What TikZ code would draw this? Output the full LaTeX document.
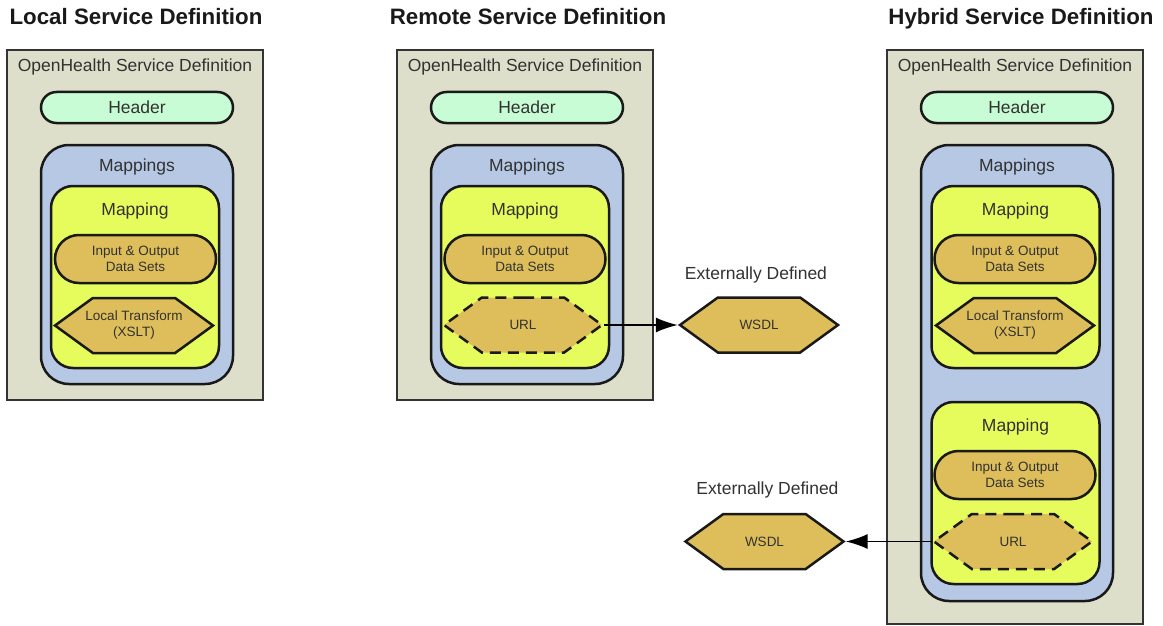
\documentclass[tikz,border=0pt]{standalone}
\usepackage{fontspec}
\setmainfont{Liberation Sans}
\usetikzlibrary{arrows.meta, positioning, shapes.misc, shapes.symbols}

\definecolor{defgray}{RGB}{221,223,203}
\definecolor{headgreen}{RGB}{200,252,212}
\definecolor{mapsblue}{RGB}{182,200,228}
\definecolor{mapyellow}{RGB}{230,252,92}
\definecolor{datagold}{RGB}{221,190,90}
\definecolor{textgray}{RGB}{50,50,50}

\tikzset{
	defbox/.style = {draw = black!80, line width = 2pt, fill = defgray, minimum width = 256pt, inner sep = 0pt},
	headbox/.style = {rounded rectangle, draw = black!90, line width = 2.5pt, fill = headgreen, minimum width = 192pt, minimum height = 31pt, inner sep = 0pt, font = \fontsize{17.5}{20}\selectfont, text = textgray},
	mapsbox/.style = {draw = black!90, line width = 2.5pt, fill = mapsblue, rounded corners = 28pt, minimum width = 192pt, inner sep = 0pt},
	mapbox/.style = {draw = black!90, line width = 2.5pt, fill = mapyellow, rounded corners = 22pt, minimum width = 168pt, minimum height = 182pt, inner sep = 0pt},
	databox/.style = {rounded rectangle, draw = black!90, line width = 2.5pt, fill = datagold, minimum width = 161pt, minimum height = 48pt, inner sep = 0pt, align = center, font = \fontsize{13.5}{16}\selectfont, text = textgray},
	hexbox/.style = {signal, signal to = west and east, signal pointer angle = 72, draw = black!90, line width = 2.5pt, fill = datagold, minimum width = 158pt, minimum height = 55pt, inner ysep = 0pt, inner xsep = -12pt, align = center, font = \fontsize{13.5}{16}\selectfont, text = textgray},
	linkbox/.style = {hexbox, dash pattern = on 11pt off 7pt},
	headline/.style = {anchor = base, font = \fontsize{22.3}{24}\selectfont\bfseries, text = black!90},
	boxlabel/.style = {inner sep = 0pt, font = \fontsize{17.5}{20}\selectfont, text = textgray}
}

\begin{document}
\begin{tikzpicture}[x = 1pt, y = -1pt, > = {Latex[length = 22pt, width = 15pt]}]

	% Canvas
	
	\useasboundingbox (0, 0) rectangle (1163, 626);

	% Titles
	
	\node [headline] (loc-title) at (136, 25) {Local Service Definition};
	\node [headline] (rem-title) at (528, 25) {Remote Service Definition};
	\node [headline] (hyb-title) at (1021, 25) {Hybrid Service Definition};

	% Definition boxes + headers + mappings
	
	\foreach \cx/\col/\H/\M in {135/loc/350/239, 525/rem/350/239, 1015/hyb/574/456}
	{
		\node [defbox, minimum height = \H pt] (\col-def) at (\cx, {50 + \H / 2}) {};
		\node [boxlabel, below = 10pt of \col-def.north] (\col-deft) {OpenHealth Service Definition};
		
		\node [headbox] (\col-head) at ({\cx + 2}, 107.5) {Header};
		
		\node [mapsbox, minimum height = \M pt] (\col-maps) at ({\cx + 2}, {145 + \M / 2}) {};
		\node [boxlabel, below = 15pt of \col-maps.north] (\col-mapst) {Mappings};
	}

	% Local mapping
	
	\node [mapbox] (loc-map) at (135, 277) {};
	\node [boxlabel, below = 18pt of loc-map.north] (loc-mapt) {Mapping};
	\node [databox] (loc-data) at (135.5, 259) {Input \& Output\\Data Sets};
	\node [hexbox] (loc-xslt) at (134, 325.5) {Local Transform\\(XSLT)};

	% Remote mapping
	
	\node [mapbox] (rem-map) at (525, 277) {};
	\node [boxlabel, below = 18pt of rem-map.north] (rem-mapt) {Mapping};
	\node [databox] (rem-data) at (525, 259) {Input \& Output\\Data Sets};
	\node [linkbox] (rem-url) at (523, 325) {URL};

	% Hybrid mappings
	
	\node [mapbox] (hyb-map1) at (1015.5, 277) {};
	\node [boxlabel, below = 18pt of hyb-map1.north] (hyb-map1t) {Mapping};
	\node [databox] (hyb-data1) at (1015, 259) {Input \& Output\\Data Sets};
	\node [hexbox] (hyb-xslt) at (1015, 325.5) {Local Transform\\(XSLT)};
	
	\node [mapbox] (hyb-map2) at (1015.5, 493) {};
	\node [boxlabel, below = 18pt of hyb-map2.north] (hyb-map2t) {Mapping};
	\node [databox] (hyb-data2) at (1015, 475) {Input \& Output\\Data Sets};
	\node [linkbox] (hyb-url) at (1013, 541.5) {URL};

	% Externally defined services
	
	\node [hexbox] (rem-wsdl) at (759, 325) {WSDL};
	\node [boxlabel, above = 13pt of rem-wsdl.north, xshift = -3pt] (rem-ext) {Externally Defined};
	
	\node [hexbox] (hyb-wsdl) at (764.5, 541.5) {WSDL};
	\node [boxlabel, above = 14pt of hyb-wsdl.north, xshift = 3pt] (hyb-ext) {Externally Defined};

	% Links
	
	\draw [->, line width = 1.8pt] (rem-url.east) -- (rem-wsdl.west);
	\draw [->, line width = 1.8pt] (hyb-url.west) -- (hyb-wsdl.east);

\end{tikzpicture}
\end{document}
